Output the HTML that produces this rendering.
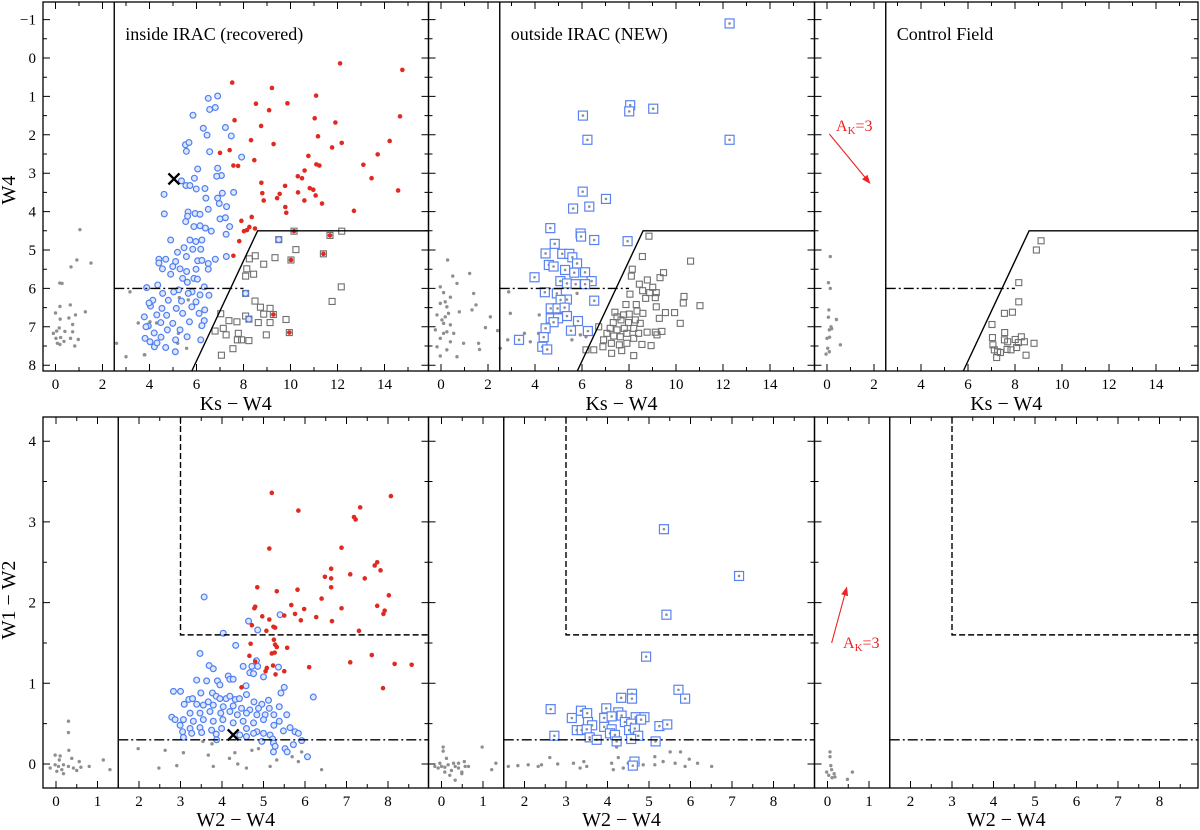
<!DOCTYPE html>
<html><head><meta charset="utf-8"><style>
html,body{margin:0;padding:0;background:#fff}
svg{display:block}
text{font-family:"Liberation Serif",serif;fill:#000}
</style></head><body>
<svg id="fig" width="1200" height="830" viewBox="0 0 1200 830" xmlns="http://www.w3.org/2000/svg">
<g id="marks"></g>
<g id="frames"></g>
</svg>
<script>
// ---------- DATA ----------
// Top row: [Ks-W4, W4]
const tlRed = [[7.52,0.64],[9.21,0.78],[12.11,0.14],[14.76,0.31],[8.53,1.19],[9.09,1.36],[9.87,1.18],[11.09,0.98],[7.62,1.62],[8.75,1.77],[11.03,1.57],[11.91,1.68],[14.66,1.52],[7.0,2.47],[7.41,2.40],[8.32,2.14],[9.28,2.24],[11.17,2.04],[11.77,2.33],[12.18,2.21],[14.22,2.16],[13.71,2.51],[7.57,2.80],[7.77,2.81],[8.46,2.66],[10.76,2.55],[11.1,2.77],[11.23,2.80],[8.76,3.25],[9.77,3.33],[10.31,3.08],[10.49,3.13],[10.6,2.93],[13.1,2.78],[13.45,3.13],[8.8,3.52],[9.54,3.54],[10.32,3.5],[10.82,3.39],[10.97,3.43],[8.86,3.71],[9.43,3.65],[10.59,3.71],[11.07,3.58],[11.34,3.79],[9.78,3.88],[9.82,4.03],[12.7,3.98],[14.58,3.45],[7.91,4.24],[8.35,4.14],[8.25,4.4],[8.15,4.48],[8.02,4.51],[8.49,4.44],[7.82,4.77],[7.57,5.15],[10.15,4.51],[11.68,4.62],[10.02,5.26],[11.4,5.1],[9.27,6.68],[9.95,7.15]];
const tlBlue = [[6.50,1.05],[6.90,0.99],[6.56,1.34],[6.80,1.29],[5.85,1.49],[6.29,1.83],[7.23,1.81],[6.45,2.01],[7.48,2.03],[5.53,2.26],[5.68,2.20],[5.57,2.43],[6.56,2.44],[7.92,2.58],[6.05,2.89],[6.90,2.87],[7.06,3.06],[6.86,3.08],[5.91,3.13],[5.36,3.20],[5.55,3.32],[5.72,3.32],[5.99,3.41],[6.36,3.40],[7.58,3.50],[4.62,3.55],[7.1,3.52],[6.4,3.65],[6.9,3.65],[6.97,3.79],[7.28,3.87],[4.63,4.06],[5.64,4.01],[5.94,4.05],[6.15,4.07],[6.5,3.94],[7.0,4.19],[7.23,4.16],[5.62,4.12],[5.54,4.26],[5.89,4.39],[6.15,4.37],[6.38,4.43],[7.41,4.39],[4.9,4.74],[5.72,4.74],[5.97,4.78],[6.23,4.74],[6.63,4.51],[7.26,4.59],[5.47,4.94],[5.84,4.98],[6.18,4.98],[5.19,5.06],[5.11,5.3],[4.4,5.24],[4.69,5.24],[5.57,5.17],[6.05,5.28],[6.8,5.24],[7.27,5.17],[6.23,5.27],[6.5,5.35],[4.55,5.49],[4.99,5.43],[5.3,5.49],[5.98,5.5],[4.9,5.63],[5.58,5.56],[6.5,5.5],[5.41,5.74],[5.89,5.74],[3.88,5.98],[4.35,5.91],[5.61,5.84],[6.04,5.76],[6.33,5.96],[5.24,6.04],[5.81,6.09],[4.56,6.13],[5.03,6.09],[5.65,6.13],[6.15,6.17],[6.53,6.18],[4.14,6.31],[4.8,6.31],[5.36,6.33],[5.98,6.35],[4.53,6.52],[5.14,6.52],[5.8,6.48],[4.04,6.46],[6.35,6.56],[3.78,6.74],[4.31,6.69],[4.73,6.70],[5.41,6.65],[6.11,6.65],[4.48,6.89],[4.99,6.91],[5.70,6.87],[6.33,6.84],[3.95,6.98],[4.76,7.08],[5.30,7.08],[6.23,6.97],[4.02,7.39],[4.49,7.27],[5.11,7.34],[5.6,7.26],[6.18,7.34],[4.21,7.52],[4.69,7.54],[5.1,7.65],[3.81,7.3],[4.2,7.16],[4.32,7.42],[3.85,7.0],[3.98,6.38],[4.40,5.34],[9.5,4.73],[8.09,6.13],[8.23,6.8]];
const tlSquares = [[10.15,4.51],[11.68,4.62],[12.18,4.51],[9.5,4.73],[10.23,4.99],[11.4,5.1],[8.5,5.15],[9.34,5.2],[8.25,5.23],[10.02,5.26],[8.86,5.37],[8.14,5.49],[8.09,5.68],[8.43,5.63],[11.77,6.34],[12.16,5.96],[8.49,6.33],[8.72,6.49],[9.13,6.52],[8.09,6.13],[7.03,6.66],[7.38,6.84],[7.72,6.87],[8.09,6.72],[8.23,6.8],[8.63,6.89],[8.86,6.67],[9.27,6.68],[9.13,6.89],[8.97,7.21],[9.81,6.81],[6.79,7.11],[7.14,7.04],[7.26,7.21],[7.78,7.17],[7.74,7.34],[7.92,7.34],[8.23,7.36],[7.55,7.57],[7.06,7.74],[9.95,7.15]];
const tlGray = [[1.04,4.47],[0.91,5.26],[1.51,5.34],[0.66,5.44],[0.28,5.87],[0.18,5.86],[0.19,6.47],[0.0,6.64],[0.63,6.43],[0.85,6.69],[1.27,6.61],[0.2,6.8],[0.57,6.77],[0.73,6.94],[0.05,7.11],[0.16,7.03],[0.4,7.12],[0.73,7.13],[0.02,7.3],[0.22,7.28],[0.36,7.38],[0.08,7.43],[0.19,7.46],[0.64,7.3],[0.97,7.33],[0.82,7.5],[-0.09,7.17],[3.0,7.78],[3.8,7.73],[3.17,6.09],[3.52,6.9],[4.02,6.87],[4.3,6.9],[5.23,7.17],[5.58,7.56],[5.27,6.24],[5.65,6.3],[5.2,7.43],[6.15,7.0],[2.6,7.43],[3.78,7.73]];
const tmBlueSq = [[12.28,-0.90],[8.05,1.23],[8.01,1.39],[9.03,1.32],[6.04,1.50],[12.28,2.13],[6.23,2.13],[6.03,3.48],[7.02,3.67],[5.62,3.92],[6.31,3.87],[4.65,4.43],[5.94,4.57],[5.96,4.65],[6.52,4.74],[7.94,4.77],[4.84,4.84],[4.45,5.09],[4.59,5.39],[4.79,5.43],[5.16,5.1],[5.46,5.1],[5.59,5.19],[5.79,5.35],[5.28,5.52],[5.67,5.59],[6.13,5.58],[6.41,5.81],[3.98,5.71],[5.08,5.81],[5.36,5.87],[5.73,5.89],[6.13,5.89],[4.42,6.1],[4.93,6.13],[5.36,6.29],[5.09,6.3],[6.52,6.32],[4.67,6.52],[4.96,6.52],[5.26,6.5],[5.36,6.72],[4.67,6.78],[4.98,6.78],[4.79,6.88],[5.83,6.85],[4.45,7.04],[5.53,7.1],[6.25,7.11],[3.32,7.34],[4.37,7.27],[4.31,7.52],[4.52,7.59]];
const tmSquares = [[8.85,4.64],[8.57,5.17],[10.62,5.29],[8.14,5.5],[9.47,5.59],[8.1,5.68],[9.32,5.72],[8.78,5.78],[8.44,5.89],[9.01,5.97],[8.88,6.11],[8.04,6.15],[9.16,6.11],[8.58,6.06],[10.34,6.21],[10.31,6.38],[11.02,6.45],[7.87,6.42],[8.31,6.42],[8.71,6.26],[9.12,6.24],[9.16,6.48],[7.4,6.62],[7.77,6.69],[8.01,6.67],[8.34,6.59],[8.59,6.65],[9.55,6.63],[9.94,6.63],[7.49,6.74],[9.29,6.78],[7.33,6.89],[7.66,6.82],[7.98,6.89],[8.27,6.82],[8.48,6.91],[10.18,6.91],[7.2,7.04],[7.49,7.08],[7.8,7.04],[8.2,7.04],[8.77,7.14],[9.12,7.14],[9.4,7.12],[6.71,7.0],[7.06,7.17],[7.35,7.24],[7.63,7.26],[7.91,7.17],[8.2,7.3],[6.92,7.34],[7.25,7.43],[7.59,7.47],[7.91,7.43],[8.55,7.46],[8.94,7.49],[6.17,7.6],[6.5,7.6],[7.26,7.69],[7.69,7.62],[8.2,7.75],[6.89,7.52],[6.32,7.12],[9.19,7.21],[8.41,7.17]];
const tmGray = [[0.28,5.26],[0.5,5.68],[1.22,5.61],[0.68,5.87],[-0.03,5.96],[0.11,6.11],[0.4,6.23],[1.39,6.13],[-0.03,6.39],[0.25,6.48],[0.78,6.61],[1.49,6.43],[1.32,6.56],[-0.17,6.69],[0.18,6.74],[2.1,6.74],[0.11,6.91],[0.4,6.95],[1.89,7.02],[-0.24,7.08],[0.25,7.13],[0.54,7.17],[2.41,7.1],[-0.03,7.3],[0.4,7.39],[0.96,7.43],[1.6,7.43],[-0.17,7.52],[0.25,7.6],[0.68,7.78],[1.64,7.59],[-0.03,7.76],[0.04,6.82],[0.32,6.65],[0.18,6.35],[0.11,7.17],[2.88,6.09],[2.95,6.65],[3.55,7.17],[2.84,7.34],[3.23,7.39],[3.8,7.39],[4.18,6.69],[5.79,6.13],[5.36,6.48],[5.93,7.21],[4.15,7.17],[2.52,7.56],[6.17,7.26],[5.57,7.34]];
const trSquares = [[9.11,4.76],[8.91,5.0],[8.16,5.85],[8.16,6.35],[7.55,6.65],[7.89,6.62],[7.02,6.94],[7.56,7.15],[7.04,7.28],[7.55,7.34],[7.69,7.39],[8.01,7.33],[8.27,7.26],[8.4,7.39],[8.14,7.41],[8.81,7.43],[7.06,7.47],[7.12,7.6],[7.26,7.65],[7.38,7.67],[7.66,7.59],[7.83,7.6],[8.07,7.54],[8.47,7.74],[7.22,7.8]];
const trGray = [[0.14,5.17],[0.06,5.85],[0.14,6.0],[0.08,6.56],[0.06,6.75],[0.4,6.81],[0.17,7.0],[0.1,7.08],[0.2,7.05],[0.0,7.3],[0.11,7.27],[0.57,7.47],[0.03,7.56],[0.1,7.65],[-0.04,7.71]];
const topCross = [[5.04,3.15]];
const topVector = [[0.1,1.98],[1.85,3.28]];

// Bottom row: [W2-W4, W1-W2]
const blRed = [[5.2,3.36],[5.84,3.14],[5.14,2.67],[4.85,2.19],[8.07,3.32],[7.18,3.06],[7.22,3.03],[7.33,3.18],[6.88,2.68],[6.48,2.32],[6.63,2.42],[6.63,2.3],[6.63,2.19],[7.09,2.35],[7.44,2.3],[7.68,2.46],[7.74,2.5],[7.82,2.4],[8.02,2.09],[5.82,2.16],[5.32,2.14],[6.4,2.05],[4.78,1.93],[4.8,1.95],[5.67,1.97],[5.98,1.92],[7.74,1.96],[7.92,1.9],[7.89,1.86],[6.88,1.93],[6.27,1.82],[4.97,1.83],[5.5,1.84],[5.76,1.86],[5.9,1.78],[6.65,1.77],[5.14,1.79],[4.72,1.72],[5.24,1.7],[5.28,1.69],[5.07,1.65],[7.3,1.65],[5.25,1.54],[5.28,1.48],[5.32,1.45],[4.69,1.49],[5.2,1.37],[5.27,1.38],[5.57,1.44],[4.66,1.34],[4.8,1.27],[7.61,1.35],[5.08,1.19],[5.23,1.22],[6.1,1.2],[7.09,1.26],[8.16,1.24],[8.57,1.23],[5.05,1.15],[5.5,1.15],[5.29,1.11],[4.47,0.95],[7.88,0.94]];
const blBlue = [[3.57,2.07],[4.03,1.62],[4.33,1.47],[3.47,1.37],[4.64,1.77],[4.86,1.66],[4.83,1.28],[5.4,1.85],[3.69,1.22],[3.79,1.18],[4.51,1.21],[4.72,1.21],[4.86,1.21],[5.36,1.2],[4.67,1.13],[4.76,1.12],[5.0,1.08],[4.15,1.09],[4.19,1.05],[4.27,1.05],[3.39,1.04],[3.63,1.03],[3.89,1.03],[3.95,0.98],[4.58,0.97],[5.5,0.95],[5.42,0.88],[6.2,0.83],[5.12,0.79],[2.83,0.9],[3.0,0.9],[3.2,0.8],[3.29,0.81],[3.49,0.88],[3.67,0.77],[3.77,0.88],[3.86,0.84],[3.95,0.81],[4.1,0.81],[4.19,0.84],[4.32,0.8],[4.42,0.81],[4.59,0.86],[4.77,0.77],[4.96,0.74],[3.09,0.74],[3.39,0.74],[3.55,0.73],[3.79,0.73],[4.03,0.71],[4.27,0.72],[4.47,0.69],[4.67,0.67],[4.88,0.69],[5.14,0.69],[5.38,0.71],[3.23,0.63],[3.47,0.63],[3.71,0.65],[3.97,0.63],[4.19,0.65],[4.37,0.61],[4.59,0.63],[4.84,0.61],[5.04,0.61],[5.25,0.61],[5.56,0.61],[2.79,0.58],[2.87,0.55],[3.07,0.55],[3.31,0.53],[3.55,0.55],[3.79,0.53],[4.02,0.55],[4.27,0.51],[4.51,0.53],[4.76,0.51],[5.0,0.55],[5.25,0.48],[5.38,0.53],[5.64,0.45],[2.99,0.48],[3.23,0.44],[3.47,0.45],[3.75,0.42],[3.99,0.44],[4.59,0.44],[4.84,0.4],[3.05,0.4],[3.27,0.38],[3.51,0.39],[3.86,0.37],[4.43,0.36],[4.76,0.38],[5.0,0.38],[5.16,0.36],[5.76,0.4],[5.84,0.38],[5.48,0.41],[3.07,0.33],[3.87,0.3],[4.59,0.34],[4.96,0.28],[5.22,0.31],[5.92,0.29],[5.24,0.26],[5.28,0.22],[5.24,0.15],[5.52,0.19],[5.57,0.15],[5.72,0.24],[6.06,0.09]];
const blGray = [[0.3,0.53],[0.3,0.39],[0.31,0.17],[0.1,0.1],[-0.02,0.11],[0.38,0.07],[0.56,0.03],[-0.14,-0.05],[-0.02,-0.01],[0.06,-0.03],[0.14,-0.07],[0.18,-0.01],[0.3,-0.03],[0.42,-0.05],[0.5,-0.08],[0.6,-0.04],[0.8,-0.03],[1.14,0.05],[1.3,-0.07],[0.08,0.05],[0.02,-0.09],[0.18,-0.12],[1.98,0.19],[2.48,-0.05],[2.63,0.17],[2.91,-0.02],[3.07,0.14],[3.54,0.28],[3.67,0.11],[3.76,0.25],[3.79,-0.03],[4.18,0.07],[4.31,0.14],[4.38,0.0],[4.59,-0.05],[4.72,0.17],[4.88,0.19],[5.16,-0.03],[5.32,0.05],[5.69,0.09],[5.84,0.03],[6.4,-0.07],[5.92,0.15]];
const bmBlueSq = [[5.36,2.91],[7.17,2.33],[5.42,1.85],[4.93,1.33],[5.71,0.92],[5.87,0.81],[4.33,0.82],[4.59,0.87],[4.59,0.81],[2.63,0.68],[3.97,0.69],[3.36,0.66],[3.51,0.63],[3.14,0.57],[3.92,0.57],[4.26,0.64],[4.34,0.6],[4.1,0.59],[4.68,0.58],[4.89,0.58],[4.81,0.55],[3.53,0.52],[3.63,0.48],[3.26,0.42],[3.38,0.42],[3.5,0.43],[3.92,0.46],[4.1,0.43],[4.42,0.52],[4.57,0.5],[4.52,0.42],[4.66,0.44],[5.25,0.47],[5.44,0.49],[2.72,0.35],[4.06,0.38],[4.18,0.36],[4.74,0.35],[3.57,0.33],[3.74,0.3],[4.22,0.28],[4.57,0.31],[5.16,0.28],[4.65,0.03],[4.61,-0.02]];
const bmGray = [[0.04,0.21],[0.04,0.16],[0.98,0.21],[-0.16,-0.03],[-0.08,-0.05],[0.0,-0.03],[0.08,-0.04],[0.16,-0.01],[0.24,-0.08],[0.33,-0.03],[0.41,-0.05],[0.49,-0.1],[0.57,-0.03],[0.65,-0.03],[0.08,-0.1],[0.2,-0.14],[0.33,-0.2],[0.12,0.07],[0.55,0.03],[-0.04,0.01],[0.29,0.01],[0.41,0.01],[0.49,-0.12],[1.21,-0.07],[1.31,0.01],[1.61,-0.03],[1.84,-0.02],[2.09,-0.01],[2.33,-0.03],[2.61,0.08],[2.8,0.0],[3.18,0.01],[3.34,-0.05],[3.5,-0.03],[3.43,0.03],[4.1,0.01],[4.14,-0.07],[4.22,0.21],[4.26,0.08],[4.38,-0.05],[4.5,0.01],[4.86,-0.01],[5.14,0.09],[5.34,0.03],[5.51,0.15],[5.63,0.01],[5.76,0.15],[5.87,-0.03],[5.97,0.06],[6.17,0.01],[6.51,-0.03],[5.14,-0.01],[4.74,0.01],[2.41,-0.01]];
const brGray = [[0.06,0.15],[0.06,0.09],[0.08,-0.02],[0.1,-0.07],[-0.02,-0.1],[0.16,-0.12],[0.18,-0.16],[0.11,-0.17],[0.48,-0.19],[0.6,-0.1],[0.03,-0.14]];
const botCross = [[4.27,0.36]];
const botVector = [[0.1,1.50],[0.47,2.20]];

const topXTicks = [0,2,4,6,8,10,12,14];
const topYTicks = [-1,0,1,2,3,4,5,6,7,8];
const botXTicks = [0,1,2,3,4,5,6,7,8];
const botYTicks = [0,1,2,3,4];

// ---------- LAYOUT ----------
const NS = "http://www.w3.org/2000/svg";
const marks = document.getElementById('marks');
const frames = document.getElementById('frames');
function mk(tag, attrs, parent){const e=document.createElementNS(NS,tag);for(const k in attrs)e.setAttribute(k,attrs[k]);(parent||marks).appendChild(e);return e;}

const lefts=[43,428.5,814.5], rights=[428.5,814.5,1198];
function topPanel(i){const L=lefts[i];return {L:L,R:rights[i],T:2,B:371,sx:v=>L+12.5+23.5*v,sy:w=>58+38.4*w};}
function botPanel(i){const L=lefts[i];return {L:L,R:rights[i],T:417,B:788,sx:v=>L+13+41.5*v,sy:w=>764-80.7*w};}
const tp=[0,1,2].map(topPanel), bp=[0,1,2].map(botPanel);

function line(p,x1,y1,x2,y2,dash,name){const e=mk('line',{x1:x1,y1:y1,x2:x2,y2:y2,stroke:'#000','stroke-width':1.4},frames);if(dash)e.setAttribute('stroke-dasharray',dash);

return e;}

function drawGray(p,arr){arr.forEach(d=>{const c=mk('circle',{cx:p.sx(d[0]),cy:p.sy(d[1]),r:1.7,fill:'#8f8f8f'});

});}
function drawRed(p,arr){arr.forEach(d=>{const c=mk('circle',{cx:p.sx(d[0]),cy:p.sy(d[1]),r:2.3,fill:'#e02a1f'});

});}
function drawBlue(p,arr){arr.forEach(d=>{const c=mk('circle',{cx:p.sx(d[0]),cy:p.sy(d[1]),r:2.9,fill:'#dfe7fc',stroke:'#4f7ff2','stroke-width':1.2});

});}
function drawSq(p,arr){arr.forEach(d=>{const r=mk('rect',{x:p.sx(d[0])-3,y:p.sy(d[1])-3,width:6,height:6,fill:'none',stroke:'#6f6f6f','stroke-width':1.1});

});}
function drawBlueSq(p,arr){arr.forEach(d=>{const x=p.sx(d[0]),y=p.sy(d[1]);
const r=mk('rect',{x:x-4.5,y:y-4.5,width:9,height:9,fill:'#fff',stroke:'#5a83f2','stroke-width':1.2});


const c=mk('circle',{cx:x,cy:y,r:1.3,fill:'#8f8f8f'});

});}
function drawCross(p,arr){arr.forEach(d=>{const x=p.sx(d[0]),y=p.sy(d[1]);
const g=mk('path',{d:`M${x-5.5} ${y-5.5}L${x+5.5} ${y+5.5}M${x-5.5} ${y+5.5}L${x+5.5} ${y-5.5}`,stroke:'#000','stroke-width':2.4});

});}
function drawVector(p,arr,lx,ly,name){const x1=p.sx(arr[0][0]),y1=p.sy(arr[0][1]),x2=p.sx(arr[1][0]),y2=p.sy(arr[1][1]);
const a=Math.atan2(y2-y1,x2-x1),h=9;
const l=mk('line',{x1:x1,y1:y1,x2:x2-Math.cos(a)*h*0.8,y2:y2-Math.sin(a)*h*0.8,stroke:'#ee2222','stroke-width':1.1});


const hd=mk('path',{d:`M${x2} ${y2}L${x2-h*Math.cos(a)+3.5*Math.sin(a)} ${y2-h*Math.sin(a)-3.5*Math.cos(a)}L${x2-h*Math.cos(a)-3.5*Math.sin(a)} ${y2-h*Math.sin(a)+3.5*Math.cos(a)}Z`,fill:'#ee2222'});


const t=mk('text',{x:lx,y:ly,'font-size':16});t.style.fill='#ee2222';
t.innerHTML='A<tspan font-size="11" dy="3">K</tspan><tspan dy="-3">=3</tspan>';

}

function text(x,y,s,size,anchor,name,rot){const t=mk('text',{x:x,y:y,'font-size':size,'text-anchor':anchor||'middle'},frames);t.textContent=s;if(rot)t.setAttribute('transform',`rotate(-90 ${x} ${y})`);

return t;}

function frame(p,xt,xStep,yStep,xlabel,ylab,name){
  const r=mk('rect',{x:p.L,y:p.T,width:p.R-p.L,height:p.B-p.T,fill:'none',stroke:'#000','stroke-width':1.3},frames);
  
  
  let d='';
  for(let v=-1;v<=16;v+=xStep){const x=p.sx(v);if(x<p.L+1||x>p.R-1)continue;const major=Math.abs(v-Math.round(v/xt)*xt)<1e-6;const len=major?7:4;d+=`M${x} ${p.B}V${p.B-len}M${x} ${p.T}V${p.T+len}`;}
  for(let w=-2;w<=9;w+=yStep){const y=p.sy(w);if(y<p.T+1||y>p.B-1)continue;const major=Math.abs(w-Math.round(w))<1e-6;const len=major?7:4;d+=`M${p.L} ${y}H${p.L+len}M${p.R} ${y}H${p.R-len}`;}
  const tk=mk('path',{d:d,stroke:'#000','stroke-width':1,fill:'none'},frames);
  
  
  xlabel.forEach(v=>text(p.sx(v),p.B+18,String(v),15,'middle','x-tick-label'));
  if(ylab) ylab.forEach(w=>text(p.L-7,p.sy(w)+5,String(w).replace('-','\u2212'),15,'end','y-tick-label'));
}

// ---------- TOP ROW ----------
const titles=['inside IRAC (recovered)','outside IRAC (NEW)','Control Field'];
tp.forEach((p,i)=>{
  frame(p,2,1,0.5,topXTicks,i===0?topYTicks:null,'top-panel-'+(i+1));
  line(p,p.sx(2.5),p.T,p.sx(2.5),p.B,null,'ks-w4-boundary-line');
  const pl=mk('polyline',{points:`${p.sx(5.8)},${p.B} ${p.sx(8.6)},${p.sy(4.5)} ${p.R},${p.sy(4.5)}`,fill:'none',stroke:'#000','stroke-width':1.4},frames);
  
  
  line(p,p.sx(2.5),p.sy(6),p.sx(8),p.sy(6),'10,3,2,3','w4-limit-dashdot');
  text((p.L+p.R)/2,410,'Ks \u2212 W4',20,'middle','x-axis-title');
  text(p.sx(2.5)+11,40,titles[i],18,'start','panel-title');
});
drawGray(tp[0],tlGray);drawSq(tp[0],tlSquares);drawBlue(tp[0],tlBlue);drawRed(tp[0],tlRed);drawCross(tp[0],topCross);
drawGray(tp[1],tmGray);drawSq(tp[1],tmSquares);drawBlueSq(tp[1],tmBlueSq);
drawGray(tp[2],trGray);drawSq(tp[2],trSquares);
drawVector(tp[2],topVector,836,131,'extinction-vector-top');
text(15,190,'W4',20,'middle','y-axis-title-top',true);

// ---------- BOTTOM ROW ----------
bp.forEach((p,i)=>{
  frame(p,1,0.5,0.5,botXTicks,i===0?botYTicks:null,'bottom-panel-'+(i+1));
  line(p,p.sx(1.5),p.T,p.sx(1.5),p.B,null,'w2-w4-boundary-line');
  const pl=mk('polyline',{points:`${p.sx(3)},${p.T} ${p.sx(3)},${p.sy(1.6)} ${p.R},${p.sy(1.6)}`,fill:'none',stroke:'#000','stroke-width':1.4,'stroke-dasharray':'6,3'},frames);
  
  
  line(p,p.sx(1.5),p.sy(0.3),p.R,p.sy(0.3),'10,3,2,3','w1-w2-limit-dashdot');
  text((p.L+p.R)/2,826,'W2 \u2212 W4',20,'middle','x-axis-title');
});
drawGray(bp[0],blGray);drawBlue(bp[0],blBlue);drawRed(bp[0],blRed);drawCross(bp[0],botCross);
drawGray(bp[1],bmGray);drawBlueSq(bp[1],bmBlueSq);
drawGray(bp[2],brGray);
drawVector(bp[2],botVector,843,648,'extinction-vector-bottom');
text(15,600,'W1 \u2212 W2',20,'middle','y-axis-title-bottom',true);
</script>
</body></html>
